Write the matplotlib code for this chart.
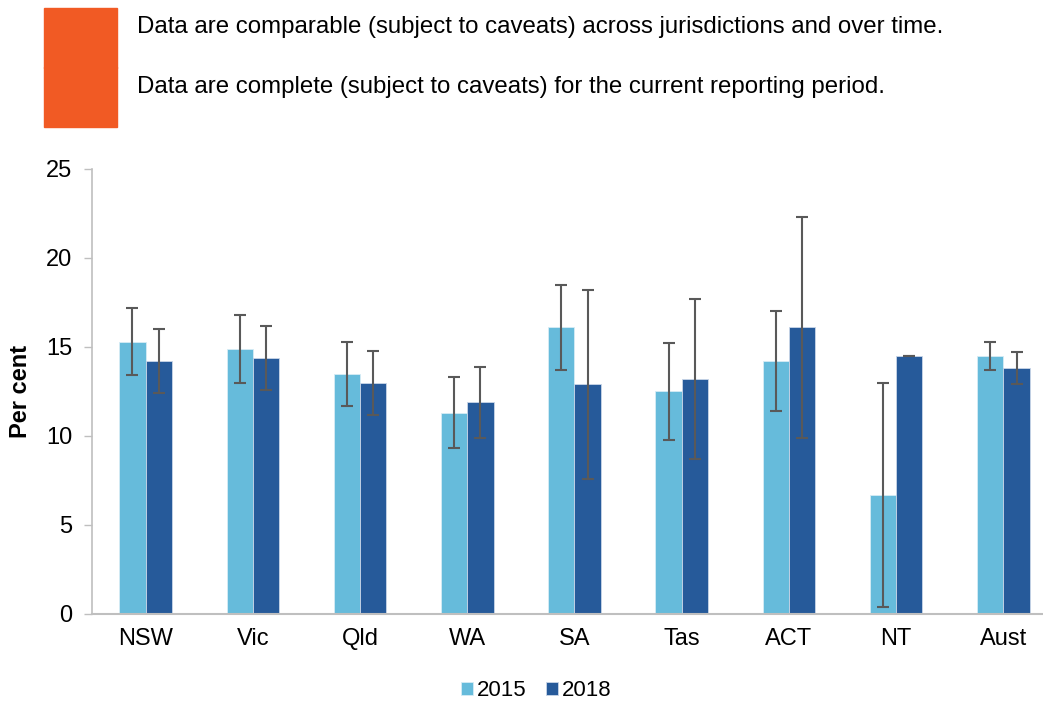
import numpy as np
import matplotlib.pyplot as plt
from matplotlib.patches import Rectangle

plt.rcParams['font.family'] = ['Liberation Sans', 'DejaVu Sans']

states = ['NSW', 'Vic', 'Qld', 'WA', 'SA', 'Tas', 'ACT', 'NT', 'Aust']
v2015 = [15.3, 14.9, 13.5, 11.3, 16.1, 12.5, 14.2, 6.7, 14.5]
lo2015 = [13.4, 13.0, 11.7, 9.3, 13.7, 9.8, 11.4, 0.4, 13.7]
hi2015 = [17.2, 16.8, 15.3, 13.3, 18.5, 15.2, 17.0, 13.0, 15.3]
v2018 = [14.2, 14.4, 13.0, 11.9, 12.9, 13.2, 16.1, 14.5, 13.8]
lo2018 = [12.4, 12.6, 11.2, 9.9, 7.6, 8.7, 9.9, 14.5, 12.9]
hi2018 = [16.0, 16.2, 14.8, 13.9, 18.2, 17.7, 22.3, 14.5, 14.7]

c15 = '#66bbdb'
c18 = '#265a9a'
err_col = '#595959'

fig = plt.figure(figsize=(10.43, 7.02), dpi=100)
ax = fig.add_axes([0.0882, 0.1254, 0.9252, 0.6339])

x = np.arange(len(states))
w = 0.245
v2015 = np.array(v2015); v2018 = np.array(v2018)
e15 = [v2015 - np.array(lo2015), np.array(hi2015) - v2015]
e18 = [v2018 - np.array(lo2018), np.array(hi2018) - v2018]

ax.bar(x - w / 2, v2015, w, color=c15, edgecolor='#d6ecf5', linewidth=0.6, label='2015', zorder=2)
ax.bar(x + w / 2, v2018, w, color=c18, edgecolor='#c9d6e8', linewidth=0.6, label='2018', zorder=2)
ax.errorbar(x - w / 2, v2015, yerr=e15, fmt='none', ecolor=err_col, elinewidth=1.5,
            capsize=4.5, capthick=1.5, zorder=3)
ax.errorbar(x + w / 2, v2018, yerr=e18, fmt='none', ecolor=err_col, elinewidth=1.5,
            capsize=4.5, capthick=1.5, zorder=3)

ax.set_xlim(-0.5, len(states) - 0.5)
ax.set_ylim(0, 25)
ax.set_yticks([0, 5, 10, 15, 20, 25])
ax.set_xticks(x)
ax.set_xticklabels(states)
ax.tick_params(axis='x', length=0, labelsize=17, pad=10)
ax.tick_params(axis='y', length=6, width=1, color='#bfbfbf', labelsize=17, pad=8, direction='out')
for s in ['top', 'right']:
    ax.spines[s].set_visible(False)
ax.spines['left'].set_color('#bfbfbf')
ax.spines['bottom'].set_color('#bfbfbf')
ax.spines['left'].set_linewidth(1.2)
ax.spines['bottom'].set_linewidth(1.5)
ax.set_ylabel('Per cent', fontsize=17, fontweight='bold', labelpad=10)

h, l = ax.get_legend_handles_labels()
fig.legend(h, l, loc='center', bbox_to_anchor=(536 / 1043, 1 - 691 / 702), ncol=2,
           frameon=False, fontsize=16, handlelength=0.55, handleheight=0.55,
           handletextpad=0.15, columnspacing=0.9)

# header with orange markers
for top in [8, 67]:
    fig.patches.append(Rectangle((44 / 1043, 1 - (top + 60) / 702), 73 / 1043, 60 / 702,
                                 transform=fig.transFigure, color='#f15a24', zorder=1))
fig.text(137 / 1043, 1 - 27 / 702,
         'Data are comparable (subject to caveats) across jurisdictions and over time.',
         fontsize=17.3, va='center', ha='left')
fig.text(137 / 1043, 1 - 87 / 702,
         'Data are complete (subject to caveats) for the current reporting period.',
         fontsize=17.3, va='center', ha='left')

fig.savefig('out.png', dpi=100)
